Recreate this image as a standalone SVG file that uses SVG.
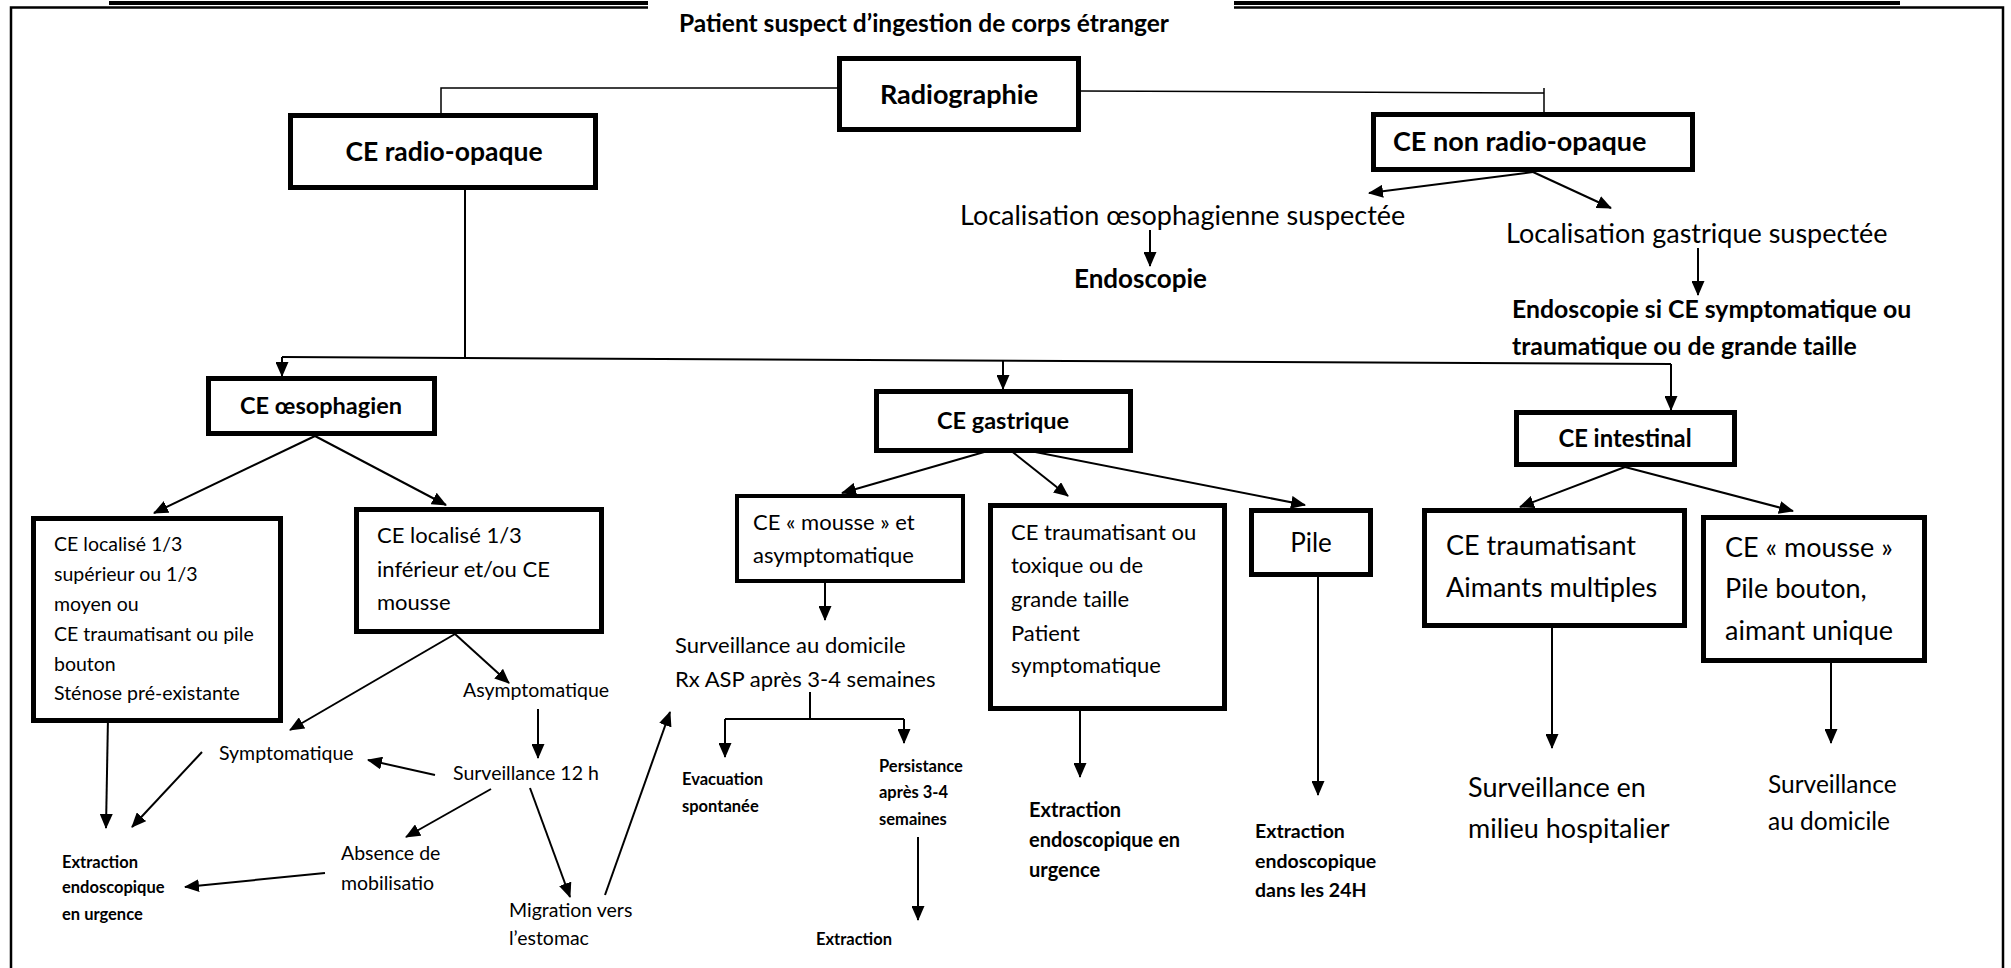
<svg xmlns="http://www.w3.org/2000/svg" width="2011" height="968" viewBox="0 0 2011 968">
  <defs>
    <marker id="ah" markerUnits="userSpaceOnUse" markerWidth="15" markerHeight="13" refX="14" refY="6.5" orient="auto">
      <path d="M0,0 L15,6.5 L0,13 z" fill="#000"/>
    </marker>
    <style>
      text { font-family: Lato, "Open Sans", sans-serif; fill: #000; }
      .b { font-weight: bold; }
      .mid { text-anchor: middle; }
      .box { fill: #fff; stroke: #000; stroke-width: 5; }
      .ln { fill: none; stroke: #000; stroke-width: 2; }
      .thin { fill: none; stroke: #000; stroke-width: 1.5; }
      .ar { marker-end: url(#ah); }
      .frame { fill: none; stroke: #000; stroke-width: 2.5; }
      .rule { fill: none; stroke: #000; stroke-width: 4; }
    </style>
  </defs>
  <rect width="2011" height="968" fill="#fff"/>

  <!-- page frame with double rule at the top -->
  <g id="frame">
    <path class="rule" d="M109,3 H648 M1234,3 H1900"/>
    <path class="frame" d="M11,968 V7.5 H648 M1234,7.5 H2003 V968"/>
    <text class="b mid" x="924" y="32" font-size="24.5">Patient suspect d’ingestion de corps étranger</text>
  </g>

  <!-- connectors -->
  <g id="connectors">
    <path class="thin" d="M837,88 H441 V113"/>
    <path class="thin" d="M1081,91 L1544,93 M1544,88 V113"/>
    <path class="ln ar" d="M1533,172 L1369,193"/>
    <path class="ln ar" d="M1533,172 L1611,208"/>
    <path class="ln ar" d="M1150,230 V266"/>
    <path class="ln ar" d="M1698,248 V295"/>
    <path class="ln" d="M465,190 V357"/>
    <path class="ln" d="M282,357 L1671,364"/>
    <path class="ln ar" d="M282,357 V376"/>
    <path class="ln ar" d="M1003,360 V389"/>
    <path class="ln ar" d="M1671,364 V410"/>
    <path class="ln ar" d="M315,436 L154,513"/>
    <path class="ln ar" d="M315,436 L446,505"/>
    <path class="ln ar" d="M1005,446 L842,493"/>
    <path class="ln ar" d="M1005,446 L1068,496"/>
    <path class="ln ar" d="M1005,446 L1305,505"/>
    <path class="ln ar" d="M1625,467 L1520,507"/>
    <path class="ln ar" d="M1625,467 L1793,511"/>
    <path class="ln ar" d="M108,717 L106,828"/>
    <path class="ln ar" d="M202,752 L132,827"/>
    <path class="ln ar" d="M455,634 L290,730"/>
    <path class="ln ar" d="M455,634 L509,683"/>
    <path class="ln ar" d="M538,709 V758"/>
    <path class="ln ar" d="M435,775 L368,760"/>
    <path class="ln ar" d="M491,789 L406,837"/>
    <path class="ln ar" d="M325,873 L185,887"/>
    <path class="ln ar" d="M530,788 L570,897"/>
    <path class="ln ar" d="M605,895 L670,712"/>
    <path class="ln ar" d="M825,583 V620"/>
    <path class="ln" d="M810,692 V719 M725,719 H904"/>
    <path class="ln ar" d="M725,719 V757"/>
    <path class="ln ar" d="M904,719 V743"/>
    <path class="ln ar" d="M918,837 V920"/>
    <path class="ln ar" d="M1080,711 V777"/>
    <path class="ln ar" d="M1318,577 V795"/>
    <path class="ln ar" d="M1552,628 V748"/>
    <path class="ln ar" d="M1831,663 V743"/>
  </g>

  <g id="radiographie">
    <rect class="box" x="839.5" y="58.5" width="239" height="71"/>
    <text class="b mid" x="959" y="104" font-size="27">Radiographie</text>
  </g>
  <g id="ce-radio-opaque">
    <rect class="box" x="290.5" y="115.5" width="305" height="72"/>
    <text class="b mid" x="444" y="161" font-size="26.5">CE radio-opaque</text>
  </g>
  <g id="ce-non-radio-opaque">
    <rect class="box" x="1373.5" y="114.5" width="319" height="55"/>
    <text class="b" x="1393" y="151" font-size="27">CE non radio-opaque</text>
  </g>
  <g id="loc-oesophagienne">
    <text x="960" y="225" font-size="27">Localisation œsophagienne suspectée</text>
  </g>
  <g id="endoscopie">
    <text class="b" x="1074" y="288" font-size="26">Endoscopie</text>
  </g>
  <g id="loc-gastrique">
    <text x="1506" y="243" font-size="27">Localisation gastrique suspectée</text>
  </g>
  <g id="endoscopie-si">
    <text class="b" font-size="24.8"><tspan x="1512" y="318">Endoscopie si CE symptomatique ou</tspan><tspan x="1512" y="355">traumatique ou de grande taille</tspan></text>
  </g>

  <g id="ce-oesophagien">
    <rect class="box" x="208.5" y="378.5" width="226" height="55"/>
    <text class="b mid" x="321" y="414" font-size="23.5">CE œsophagien</text>
  </g>
  <g id="ce-gastrique">
    <rect class="box" x="876.5" y="391.5" width="254" height="59"/>
    <text class="b mid" x="1003" y="429" font-size="23.5">CE gastrique</text>
  </g>
  <g id="ce-intestinal">
    <rect class="box" x="1516.5" y="412.5" width="218" height="52"/>
    <text class="b mid" x="1625" y="447" font-size="23.8">CE intestinal</text>
  </g>

  <g id="oeso-haut">
    <rect class="box" x="33.5" y="518.5" width="247" height="202"/>
    <text font-size="19.5"><tspan x="54" y="551">CE localisé 1/3</tspan><tspan x="54" y="581">supérieur ou 1/3</tspan><tspan x="54" y="611">moyen ou</tspan><tspan x="54" y="641">CE traumatisant ou pile</tspan><tspan x="54" y="671">bouton</tspan><tspan x="54" y="700">Sténose pré-existante</tspan></text>
  </g>
  <g id="oeso-bas">
    <rect class="box" x="356.5" y="509.5" width="245" height="122"/>
    <text font-size="22"><tspan x="377" y="543">CE localisé 1/3</tspan><tspan x="377" y="577">inférieur et/ou CE</tspan><tspan x="377" y="610">mousse</tspan></text>
  </g>
  <g id="asymptomatique"><text x="463" y="697" font-size="19.5">Asymptomatique</text></g>
  <g id="surveillance-12h"><text x="453" y="780" font-size="19.5">Surveillance 12 h</text></g>
  <g id="symptomatique"><text x="219" y="760" font-size="19.5">Symptomatique</text></g>
  <g id="absence-mobilisation"><text font-size="19.5"><tspan x="341" y="860">Absence de</tspan><tspan x="341" y="890">mobilisatio</tspan></text></g>
  <g id="migration"><text font-size="19.5"><tspan x="509" y="917">Migration vers</tspan><tspan x="509" y="945">l’estomac</tspan></text></g>
  <g id="extraction-urgence-oeso"><text class="b" font-size="16.5"><tspan x="62" y="868">Extraction</tspan><tspan x="62" y="893">endoscopique</tspan><tspan x="62" y="920">en urgence</tspan></text></g>

  <g id="gastrique-mousse">
    <rect class="box" x="737" y="496" width="226" height="85" style="stroke-width:4"/>
    <text font-size="22"><tspan x="753" y="530">CE « mousse » et</tspan><tspan x="753" y="563">asymptomatique</tspan></text>
  </g>
  <g id="surveillance-domicile-rx"><text font-size="22"><tspan x="675" y="653">Surveillance au domicile</tspan><tspan x="675" y="687">Rx ASP après 3-4 semaines</tspan></text></g>
  <g id="evacuation"><text class="b" font-size="16.5"><tspan x="682" y="785">Evacuation</tspan><tspan x="682" y="812">spontanée</tspan></text></g>
  <g id="persistance"><text class="b" font-size="16.5"><tspan x="879" y="772">Persistance</tspan><tspan x="879" y="798">après 3-4</tspan><tspan x="879" y="825">semaines</tspan></text></g>
  <g id="extraction-gastrique"><text class="b" x="816" y="945" font-size="16.5">Extraction</text></g>

  <g id="gastrique-traumatisant">
    <rect class="box" x="990.5" y="505.5" width="234" height="203"/>
    <text font-size="22"><tspan x="1011" y="540">CE traumatisant ou</tspan><tspan x="1011" y="573">toxique ou de</tspan><tspan x="1011" y="607">grande taille</tspan><tspan x="1011" y="641">Patient</tspan><tspan x="1011" y="673">symptomatique</tspan></text>
  </g>
  <g id="extraction-urgence-gastrique"><text class="b" font-size="20"><tspan x="1029" y="817">Extraction</tspan><tspan x="1029" y="847">endoscopique en</tspan><tspan x="1029" y="877">urgence</tspan></text></g>

  <g id="pile">
    <rect class="box" x="1251.5" y="510.5" width="119" height="64"/>
    <text class="mid" x="1311" y="552" font-size="26">Pile</text>
  </g>
  <g id="extraction-24h"><text class="b" font-size="19.5"><tspan x="1255" y="838">Extraction</tspan><tspan x="1255" y="868">endoscopique</tspan><tspan x="1255" y="897">dans les 24H</tspan></text></g>

  <g id="intestinal-traumatisant">
    <rect class="box" x="1424.5" y="510.5" width="260" height="115"/>
    <text font-size="27"><tspan x="1446" y="555">CE traumatisant</tspan><tspan x="1446" y="597">Aimants multiples</tspan></text>
  </g>
  <g id="surveillance-hospitalier"><text font-size="27"><tspan x="1468" y="797">Surveillance en</tspan><tspan x="1468" y="838">milieu hospitalier</tspan></text></g>

  <g id="intestinal-mousse">
    <rect class="box" x="1703.5" y="517.5" width="221" height="143"/>
    <text font-size="27"><tspan x="1725" y="557">CE « mousse »</tspan><tspan x="1725" y="598">Pile bouton,</tspan><tspan x="1725" y="640">aimant unique</tspan></text>
  </g>
  <g id="surveillance-domicile"><text font-size="24.5"><tspan x="1768" y="793">Surveillance</tspan><tspan x="1768" y="830">au domicile</tspan></text></g>
</svg>
